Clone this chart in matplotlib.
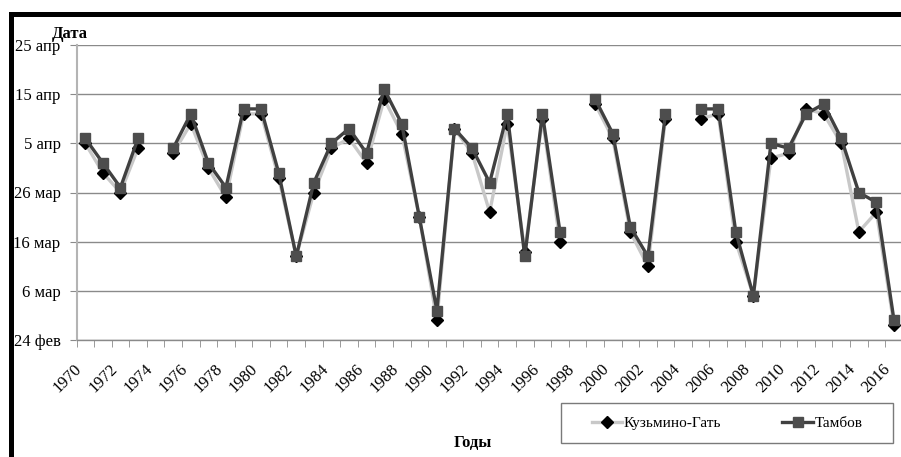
#!/usr/bin/env python3
"""Spring date series for Кузьмино-Гать and Тамбов, 1970-2016."""

import matplotlib

matplotlib.use("Agg")
import matplotlib.pyplot as plt
import numpy as np
from matplotlib.lines import Line2D
from matplotlib.patches import Rectangle

plt.rcParams["font.family"] = ["Liberation Serif", "DejaVu Serif"]

# dates are stored as days after 24 February
years = list(range(1970, 2017))
nan = np.nan
tambov = [
    41, 36, 31, 41, nan, 39, 46, 36, 31, 47,
    47, 34, 17, 32, 40, 43, 38, 51, 44, 25,
    6, 43, 39, 32, 46, 17, 46, 22, nan, 49,
    42, 23, 17, 46, nan, 47, 47, 22, 9, 40,
    39, 46, 48, 41, 30, 28, 4,
]
kuzmino = [
    40, 34, 30, 39, nan, 38, 44, 35, 29, 46,
    46, 33, 17, 30, 39, 41, 36, 49, 42, 25,
    4, 43, 38, 26, 44, 18, 45, 20, nan, 48,
    41, 22, 15, 45, nan, 45, 46, 20, 9, 37,
    38, 47, 46, 40, 22, 26, 3,
]
date_ticks = [0, 10, 20, 30, 40, 50, 60]
date_labels = ["24 фев", "6 мар", "16 мар", "26 мар", "5 апр", "15 апр", "25 апр"]

W, H = 901, 457
fig = plt.figure(figsize=(W / 100, H / 100), dpi=100)


def fx(px):
    return px / W


def fy(py):
    return 1 - py / H


ax = fig.add_axes([fx(76.5), fy(340), fx(826.3), (340 - 45) / H])

x = np.arange(len(years))
grid_c = "#8a8a8a"

ax.plot(x, kuzmino, color="#c8c8c8", lw=2.4, marker="D", ms=6.5,
        mfc="black", mec="black", zorder=3)
ax.plot(x, tambov, color="#404040", lw=2.4, marker="s", ms=7.6,
        mfc="#4d4d4d", mec="#4d4d4d", zorder=4)

ax.set_xlim(-0.5, len(years) - 0.5)
ax.set_ylim(date_ticks[0], date_ticks[-1])
ax.set_yticks(date_ticks)
ax.set_yticklabels(date_labels, fontsize=12)
ax.yaxis.grid(True, color=grid_c, lw=1.0)
ax.set_axisbelow(True)
ax.tick_params(axis="y", length=5, color=grid_c, pad=6.5)

ax.set_xticks(x[::2])
ax.set_xticklabels([str(y) for y in years[::2]], fontsize=12,
                   rotation=45, ha="right", va="bottom", rotation_mode="anchor")
ax.set_xticks(np.arange(-0.5, len(years) + 0.5, 1), minor=True)
ax.tick_params(axis="x", which="major", length=0, pad=23.5)
ax.tick_params(axis="x", which="minor", length=5, color=grid_c, direction="out")

for side in ("top", "right"):
    ax.spines[side].set_visible(False)
ax.spines["left"].set_color("#b4b4b4")
ax.spines["left"].set_linewidth(1.5)
ax.spines["bottom"].set_color(grid_c)
ax.spines["bottom"].set_linewidth(1.0)

fig.text(fx(52), fy(38), "Дата", fontsize=12, fontweight="bold", va="baseline")
fig.text(fx(473), fy(447), "Годы", fontsize=12, fontweight="bold",
         ha="center", va="baseline")

# legend box
fig.patches.append(Rectangle((fx(561), fy(443)), fx(332), (443 - 403) / H,
                             transform=fig.transFigure, fill=False,
                             edgecolor="#7a7a7a", lw=1.0))
handles = [
    Line2D([], [], color="#c8c8c8", lw=2.4, marker="D", ms=6.5,
           mfc="black", mec="black"),
    Line2D([], [], color="#404040", lw=2.4, marker="s", ms=7.6,
           mfc="#4d4d4d", mec="#4d4d4d"),
]
fig.legend(handles, ["Кузьмино-Гать", "Тамбов"], loc="center",
           bbox_to_anchor=(fx(727), fy(423)), ncol=2, frameon=False,
           fontsize=11, handlelength=2.0, handletextpad=0.1, columnspacing=4.0)

# heavy frame on the left and top
fig.patches.append(Rectangle((fx(10.5), fy(470)), fx(920), (470 - 14) / H,
                             transform=fig.transFigure, fill=False,
                             edgecolor="black", lw=3.6))

fig.savefig("out.png", dpi=100)
